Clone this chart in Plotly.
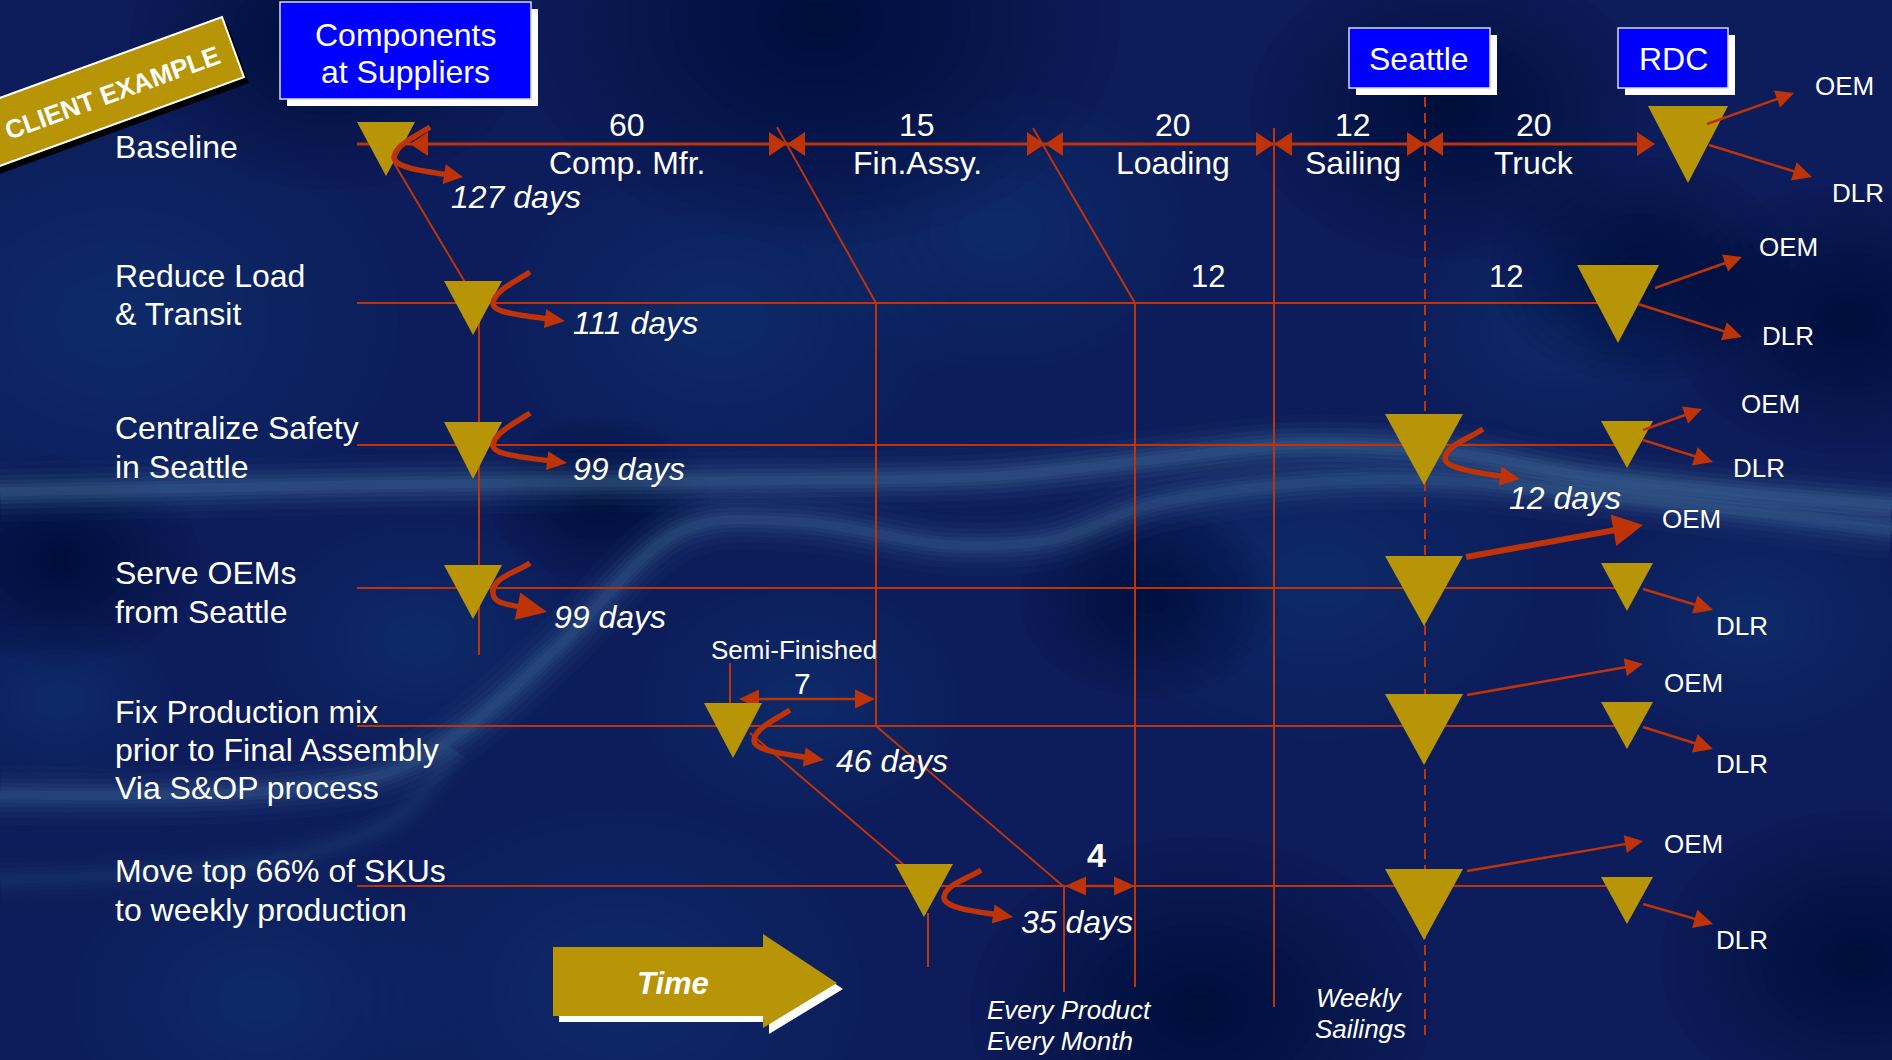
import math
import plotly.graph_objects as go

W, H = 1892, 1060
FONT = "Arial, Liberation Sans, Helvetica, sans-serif"
RED = "#BF3309"
GOLD = "#B79507"
WHITE = "#FFFFFF"
BLUE = "#0000FF"
BG = "#0d1c5a"

# ---------------- values ----------------
scenario_names = [
    ["Baseline"],
    ["Reduce Load", "& Transit"],
    ["Centralize Safety", "in Seattle"],
    ["Serve OEMs", "from Seattle"],
    ["Fix Production mix", "prior to Final Assembly", "Via S&OP process"],
    ["Move top 66% of SKUs", "to weekly production"],
]
scenario_days = [127, 111, 99, 99, 46, 35]
stage_names = ["Comp. Mfr.", "Fin.Assy.", "Loading", "Sailing", "Truck"]
stage_days = [60, 15, 20, 12, 20]
reduced_transport_days = [12, 12]
seattle_days = 12
semi_finished_days = 7
monthly_window_days = 4
node_names = [["Components", "at Suppliers"], ["Seattle"], ["RDC"]]
channels = ["OEM", "DLR"]

# ---------------- layout geometry (pixels) ----------------
row_y = [144, 303, 445, 588, 726, 886]
label_x = 113
label_line_y = [[147], [276, 314], [428, 467], [573, 612], [712, 750, 788], [871, 910]]
stage_bounds = [410, 787, 1045, 1274, 1425, 1655]
stage_label_x = [627, 917, 1173, 1353, 1534]
days_pos = [(449, 197), (571, 323), (571, 469), (552, 617), (834, 761), (1019, 922)]

# supplier / seattle / rdc inventory triangles: (cx, top, tip, half width)
supplier_tri = [(386, 122, 176, 29), (473, 281, 335, 29), (473, 422, 479, 29),
                (473, 565, 619, 29), (733, 703, 758, 29), (924, 864, 917, 29)]
seattle_tri = [None, None, (1424, 414, 485, 39), (1424, 556, 626, 39),
               (1424, 694, 765, 39), (1424, 869, 940, 39)]
rdc_tri = [(1688, 106, 183, 40), (1618, 265, 343, 41), (1627, 421, 468, 26),
           (1627, 563, 611, 26), (1627, 702, 749, 26), (1627, 877, 924, 26)]

# curved "cycle time" arrows: leftmost point, start point, tip, head length, head width, head dir
hooks = [((394, 157), (430, 127), (463, 177), 19, 20, (1, 0.15)),
         ((493, 303), (530, 272), (565, 321), 20, 19, (1, 0.12)),
         ((493, 445), (530, 413), (567, 463), 20, 19, (1, 0.12)),
         ((493, 590), (530, 563), (547, 612), 30, 28, (1, 0.2)),
         ((754, 740), (790, 710), (824, 760), 20, 19, (1, 0.15)),
         ((944, 897), (981, 870), (1013, 917), 20, 19, (1, 0.15))]
seattle_hook = ((1445, 458), (1483, 429), (1520, 479), 20, 19, (1, 0.15))

# distribution arrows (from, tip) and label centres
oem_arrows = [((1707, 124), (1794, 93)), ((1655, 288), (1742, 257)), ((1643, 430), (1702, 409)),
              ((1466, 557), (1643, 525)), ((1467, 695), (1643, 664)), ((1467, 871), (1643, 841))]
dlr_arrows = [((1709, 145), (1812, 177)), ((1638, 304), (1742, 337)), ((1643, 440), (1713, 462)),
              ((1643, 589), (1713, 610)), ((1643, 727), (1713, 749)), ((1643, 904), (1713, 924))]
oem_text = [(1844, 86), (1788, 247), (1770, 404), (1691, 519), (1693, 683), (1693, 844)]
dlr_text = [(1858, 193), (1788, 336), (1759, 468), (1742, 626), (1742, 764), (1742, 940)]

shapes = []
annotations = []


def add_line(x0, y0, x1, y1, w=2, color=RED, dash=None, layer="above"):
    ln = dict(color=color, width=w)
    if dash:
        ln["dash"] = dash
    shapes.append(dict(type="line", xref="x", yref="y", x0=x0, y0=y0, x1=x1, y1=y1,
                       line=ln, layer=layer))


def add_poly(pts, fill, line_color=None, lw=0, layer="above", opacity=1.0):
    d = "M " + " L ".join(f"{x:.1f},{y:.1f}" for x, y in pts) + " Z"
    shapes.append(dict(type="path", xref="x", yref="y", path=d, fillcolor=fill,
                       line=dict(color=line_color or fill, width=lw), layer=layer,
                       opacity=opacity))


def add_head(tip, direction, length, width, color=RED):
    dx, dy = direction
    n = math.hypot(dx, dy)
    ux, uy = dx / n, dy / n
    bx, by = tip[0] - ux * length, tip[1] - uy * length
    px, py = -uy, ux
    add_poly([tip, (bx + px * width / 2, by + py * width / 2),
              (bx - px * width / 2, by - py * width / 2)], color)
    return bx, by


def add_arrow(frm, tip, lw=2.5, hl=18, hw=18, color=RED):
    d = (tip[0] - frm[0], tip[1] - frm[1])
    n = math.hypot(*d)
    ex, ey = tip[0] - d[0] / n * hl * 0.7, tip[1] - d[1] / n * hl * 0.7
    add_line(frm[0], frm[1], ex, ey, w=lw, color=color)
    add_head(tip, d, hl, hw, color)


def add_tri(t):
    cx, top, tip, hw = t
    add_poly([(cx - hw, top), (cx + hw, top), (cx, tip)], GOLD)


def add_hook(h):
    (lx, ly), (sx, sy), tip, hl, hw, dvec = h
    n = math.hypot(*dvec)
    bx, by = tip[0] - dvec[0] / n * hl * 0.75, tip[1] - dvec[1] / n * hl * 0.75
    path = (f"M {sx},{sy} C {sx - 13},{sy + 9} {lx + 2},{ly - 13} {lx},{ly} "
            f"C {lx - 1},{ly + 10} {bx - 28},{by - 4} {bx:.1f},{by:.1f}")
    shapes.append(dict(type="path", xref="x", yref="y", path=path,
                       line=dict(color=RED, width=5.5), fillcolor="rgba(0,0,0,0)"))
    add_head(tip, dvec, hl, hw)


def text(x, y, s, size=30, xanchor="center", color=WHITE, angle=0):
    annotations.append(dict(x=x, y=y, xref="x", yref="y", text=s, showarrow=False,
                            xanchor=xanchor, yanchor="middle", textangle=angle,
                            font=dict(family=FONT, size=size, color=color)))


def blob(cx, cy, r, rgb, alpha, steps=14):
    for k in range(steps):
        rr = r * (1 - k / steps)
        shapes.append(dict(type="circle", xref="x", yref="y", x0=cx - rr, x1=cx + rr,
                           y0=cy - rr * 0.75, y1=cy + rr * 0.75, layer="below",
                           fillcolor=f"rgba({rgb},{alpha})", line=dict(width=0)))


# ---------------- cloudy backdrop ----------------
for cx, cy, r in [(120, 320, 300), (720, 320, 230), (1000, 230, 200), (420, 640, 170),
                  (620, 990, 260), (1320, 580, 230), (1560, 330, 160), (800, 700, 170),
                  (260, 1000, 200), (1750, 620, 170), (60, 700, 120)]:
    blob(cx, cy, r, "40,70,150", 0.025)
for cx, cy, r in [(820, 20, 300), (1450, 110, 200), (600, 500, 110), (1200, 1010, 230),
                  (1640, 270, 150), (1150, 600, 130), (1850, 320, 180), (330, 40, 200),
                  (1860, 960, 200), (60, 560, 140)]:
    blob(cx, cy, r, "2,6,35", 0.035)

streaks = [
    ([0, 350, 650, 850, 1000, 1150, 1300, 1450, 1600, 1892],
     [492, 485, 482, 480, 476, 460, 445, 452, 478, 505], 1.0),
    ([0, 250, 390, 470, 560, 683, 800, 950, 1050, 1150, 1280, 1420, 1600, 1892],
     [795, 792, 772, 725, 645, 530, 522, 545, 540, 505, 485, 480, 495, 530], 0.85),
    ([0, 150, 300, 400, 455], [880, 873, 855, 815, 750], 0.35),
]
traces = []
for xs, ys, k in streaks:
    for w, a in [(60, 0.035), (46, 0.05), (34, 0.07), (24, 0.09), (16, 0.1), (9, 0.1)]:
        traces.append(go.Scatter(x=xs, y=ys, mode="lines", hoverinfo="skip", showlegend=False,
                                 line=dict(shape="spline", smoothing=1.0, width=w,
                                           color=f"rgba(95,150,185,{a * k:.3f})")))

# ---------------- grid of process lines ----------------
# baseline double-headed stage arrows
add_line(357, row_y[0], stage_bounds[-1] - 8, row_y[0], w=3.2)
for i in range(len(stage_days)):
    x0, x1 = stage_bounds[i], stage_bounds[i + 1]
    add_head((x0, row_y[0]), (-1, 0), 18, 24)
    add_head((x1, row_y[0]), (1, 0), 18, 24)
    text(stage_label_x[i], 125, str(stage_days[i]), 32)
    text(stage_label_x[i], 163, stage_names[i], 32)

# scenario rows
for r in range(1, 6):
    end = rdc_tri[r][0]
    add_line(357, row_y[r], end, row_y[r], w=2.2)

# verticals
add_line(479, 303, 479, 655)
add_line(876, 303, 876, 726)
add_line(1135, 303, 1135, 987)
add_line(1274, 128, 1274, 1007)
add_line(1425, 97, 1425, 1040, dash="10px,6px")
add_line(730, 663, 730, 705)
add_line(928, 913, 928, 967)
add_line(1064, 886, 1064, 992)

# diagonals (time shifts between scenarios)
add_line(394, 163, 466, 284)
add_line(777, 127, 876, 303)
add_line(1033, 128, 1135, 303)
add_line(876, 726, 1063, 886)
add_line(750, 733, 904, 865)

# semi-finished 7-day window and 4-day monthly window
add_line(745, 699, 868, 699, w=2.5)
add_head((739, 699), (-1, 0), 20, 19)
add_head((875, 699), (1, 0), 20, 19)
text(802, 683, str(semi_finished_days), 30)
text(794, 650, "Semi-Finished", 26)

add_line(1070, 886, 1130, 886, w=2.5)
add_head((1065, 886), (-1, 0), 21, 19)
add_head((1135, 886), (1, 0), 21, 19)
text(1096, 855, f"<b>{monthly_window_days}</b>", 34)

# inventory triangles
for t in supplier_tri + seattle_tri + rdc_tri:
    if t:
        add_tri(t)

# cycle-time hooks
for h in hooks:
    add_hook(h)
add_hook(seattle_hook)

# distribution arrows
for r in range(6):
    if r == 3:
        add_arrow(*oem_arrows[r], lw=6, hl=30, hw=32)
    else:
        add_arrow(*oem_arrows[r], lw=2.5, hl=18, hw=18)
    add_arrow(*dlr_arrows[r], lw=2.5, hl=19, hw=19)
    text(*oem_text[r], channels[0], 26)
    text(*dlr_text[r], channels[1], 26)

# row labels and cycle times
for r in range(6):
    for line, y in zip(scenario_names[r], label_line_y[r]):
        text(label_x, y, line, 32, xanchor="left")
    dx, dy = days_pos[r]
    text(dx, dy, f"<i>{scenario_days[r]} days</i>", 32, xanchor="left")
text(1507, 498, f"<i>{seattle_days} days</i>", 32, xanchor="left")
text(1208, 276, str(reduced_transport_days[0]), 31)
text(1506, 276, str(reduced_transport_days[1]), 31)

# footnotes
text(985, 1010, "<i>Every Product</i>", 26, xanchor="left")
text(985, 1041, "<i>Every Month</i>", 26, xanchor="left")
text(1359, 998, "<i>Weekly</i>", 26)
text(1360, 1029, "<i>Sailings</i>", 26)

# ---------------- location boxes ----------------
boxes = [((280, 2, 531, 99), [35, 72], 405), ((1349, 28, 1490, 88), [59], 1419),
         ((1618, 28, 1728, 88), [59], 1673)]
for (x0, y0, x1, y1), ys, cx in boxes:
    shapes.append(dict(type="rect", xref="x", yref="y", x0=x0 + 7, y0=y0 + 7, x1=x1 + 7,
                       y1=y1 + 7, fillcolor=WHITE, line=dict(width=0)))
    shapes.append(dict(type="rect", xref="x", yref="y", x0=x0, y0=y0, x1=x1, y1=y1,
                       fillcolor=BLUE, line=dict(color="#d8d8ff", width=1.5)))
for (box, ys, cx), names in zip(boxes, node_names):
    for s, y in zip(names, ys):
        text(cx, y, s, 32)

# ---------------- time arrow ----------------
time_pts = [(553, 947), (763, 947), (763, 934), (837, 983), (763, 1028), (763, 1016), (553, 1016)]
add_poly([(x + 6, y + 6) for x, y in time_pts], WHITE)
add_poly(time_pts, GOLD)
text(673, 983, "<b><i>Time</i></b>", 31)

# ---------------- client example banner ----------------
ang = math.radians(20)
ux, uy = math.cos(ang), -math.sin(ang)
vx, vy = math.sin(ang), math.cos(ang)
tr = (222, 17)
L, T = 290, 64
tl = (tr[0] - ux * L, tr[1] - uy * L)
br = (tr[0] + vx * T, tr[1] + vy * T)
bl = (tl[0] + vx * T, tl[1] + vy * T)
banner = [tl, tr, br, bl]
add_poly([(x + 5, y + 6) for x, y in banner], "#000000")
add_poly(banner, GOLD, line_color=WHITE, lw=2)
text(112, 93, "<b>CLIENT EXAMPLE</b>", 26, angle=-20)

fig = go.Figure(traces)
fig.update_layout(
    width=W, height=H, margin=dict(l=0, r=0, t=0, b=0),
    paper_bgcolor=BG, plot_bgcolor=BG, showlegend=False,
    xaxis=dict(range=[0, W], visible=False, fixedrange=True),
    yaxis=dict(range=[H, 0], visible=False, fixedrange=True),
    shapes=shapes, annotations=annotations,
)
fig.write_html("out.html", config={"displayModeBar": False})
